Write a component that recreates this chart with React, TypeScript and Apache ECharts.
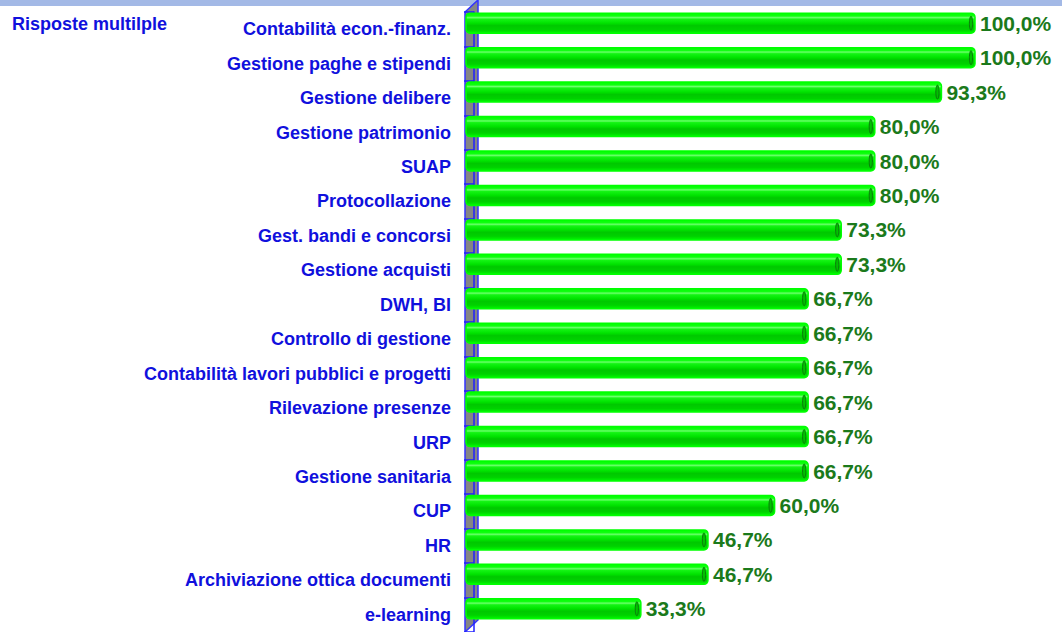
import React, { useEffect, useRef } from "react";
import * as echarts from "echarts";

const categories = [
  "Contabilità econ.-finanz.",
  "Gestione paghe e stipendi",
  "Gestione delibere",
  "Gestione patrimonio",
  "SUAP",
  "Protocollazione",
  "Gest. bandi e concorsi",
  "Gestione acquisti",
  "DWH, BI",
  "Controllo di gestione",
  "Contabilità lavori pubblici e progetti",
  "Rilevazione presenze",
  "URP",
  "Gestione sanitaria",
  "CUP",
  "HR",
  "Archiviazione ottica documenti",
  "e-learning",
];

const values = [100.0, 100.0, 93.3, 80.0, 80.0, 80.0, 73.3, 73.3, 66.7, 66.7, 66.7, 66.7, 66.7, 66.7, 60.0, 46.7, 46.7, 33.3];

const cornerTitle = "Risposte multilple";

const BLUE = "#1010DD";
const LABEL_GREEN = "#1B7A1B";
const FONT = "'Liberation Sans', Arial, Helvetica, sans-serif";

export default function App() {
  const ref = useRef<HTMLDivElement>(null);

  useEffect(() => {
    if (!ref.current) return;
    const chart = echarts.init(ref.current, null, { renderer: "svg" });
    const data = values.map((v, i) => [v, i]);

    const gridLeft = 465;
    const gridTop = 12;
    const gridRight = 87;

    chart.setOption({
      animation: false,
      backgroundColor: "#ffffff",
      grid: { left: gridLeft, right: gridRight, top: gridTop, bottom: 0, containLabel: false },
      xAxis: {
        type: "value",
        min: -1.8,
        max: 100,
        show: false,
      },
      yAxis: {
        type: "category",
        inverse: true,
        data: categories,
        axisLine: { show: true, lineStyle: { color: "#2020FF", width: 1.5 } },
        axisTick: { show: true, length: 10, lineStyle: { color: "#2020FF", width: 1.5 } },
        axisLabel: {
          color: BLUE,
          fontWeight: "bold",
          fontSize: 18,
          fontFamily: FONT,
          margin: 14,
        },
        splitLine: { show: false },
        z: 3,
      },
      graphic: [
        { type: "rect", left: 0, top: 0, shape: { x: 0, y: 0, width: 1062, height: 6 }, style: { fill: "#A3B9E6" }, z: 0 },
        {
          type: "polygon",
          shape: { points: [[465, 12], [478, 0], [478, 620], [465, 632]] },
          style: { fill: "#858585", stroke: "#3333FF", lineWidth: 1.5 },
          z: 1,
        },
        {
          type: "text",
          left: 12,
          top: 15,
          style: { text: cornerTitle, fill: BLUE, font: `bold 18px ${FONT}` },
          z: 5,
        },
      ],
      series: [
        {
          type: "custom",
          encode: { x: 0, y: 1 },
          data,
          z: 10,
          renderItem: (params: any, api: any) => {
            const v = api.value(0);
            const idx = api.value(1);
            const start = api.coord([-1.6, idx]);
            const end = api.coord([v, idx]);
            const h = 20;
            const cy = start[1] - 6;
            const x0 = start[0];
            const x1 = end[0];
            const label = v.toFixed(1).replace(".", ",") + "%";
            return {
              type: "group",
              children: [
                {
                  type: "rect",
                  shape: { x: x0, y: cy - h / 2, width: x1 - x0, height: h, r: 4 },
                  style: {
                    fill: new echarts.graphic.LinearGradient(0, 0, 0, 1, [
                      { offset: 0, color: "#00ff00" },
                      { offset: 0.14, color: "#10ff10" },
                      { offset: 0.22, color: "#6cff6c" },
                      { offset: 0.3, color: "#14f414" },
                      { offset: 0.5, color: "#00e200" },
                      { offset: 0.62, color: "#00c800" },
                      { offset: 0.82, color: "#00d200" },
                      { offset: 1, color: "#00fa00" },
                    ]),
                    stroke: "#00ff00",
                    lineWidth: 1.5,
                  },
                },
                {
                  type: "ellipse",
                  shape: { cx: x1 - 4, cy: cy, rx: 1.6, ry: 7 },
                  style: { fill: "#00c000", stroke: "#0b7a0b", lineWidth: 1 },
                },
                {
                  type: "text",
                  style: {
                    x: x1 + 5,
                    y: cy,
                    text: label,
                    fill: LABEL_GREEN,
                    font: `bold 21px ${FONT}`,
                    verticalAlign: "middle",
                    align: "left",
                  },
                },
              ],
            };
          },
        },
      ],
    });

    return () => chart.dispose();
  }, []);

  return (
    <div
      ref={ref}
      style={{ position: "fixed", left: 0, top: 0, width: 1062, height: 632 }}
    />
  );
}
